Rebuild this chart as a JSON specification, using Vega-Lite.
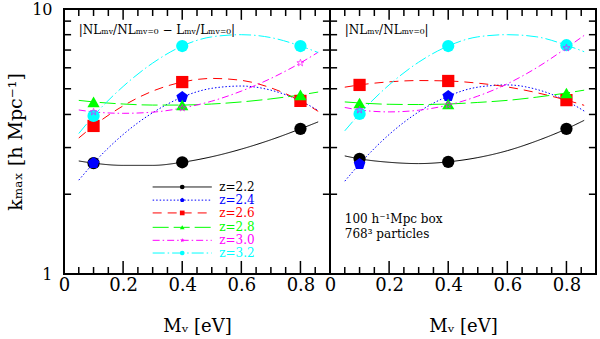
{
  "$schema": "https://vega.github.io/schema/vega-lite/v6.json",
  "padding": {"left": 5, "top": 0, "right": 0, "bottom": 0},
  "spacing": 0,
  "bounds": "flush",
  "config": {
    "font": "DejaVu Serif",
    "view": {"stroke": "black", "strokeWidth": 2},
    "axis": {"labelFont": "DejaVu Serif", "titleFont": "DejaVu Serif", "labelColor": "black", "titleColor": "black", "grid": false, "domain": false, "ticks": false, "titleFontWeight": "normal", "minExtent": 0},
    "text": {"font": "DejaVu Serif"}
  },
  "datasets": {
    "xt": [
      {"v": 0.05, "m": 0}, {"v": 0.1, "m": 0}, {"v": 0.15, "m": 0}, {"v": 0.2, "m": 1}, {"v": 0.25, "m": 0}, {"v": 0.3, "m": 0}, {"v": 0.35, "m": 0}, {"v": 0.4, "m": 1}, {"v": 0.45, "m": 0}, {"v": 0.5, "m": 0}, {"v": 0.55, "m": 0}, {"v": 0.6, "m": 1}, {"v": 0.65, "m": 0}, {"v": 0.7, "m": 0}, {"v": 0.75, "m": 0}, {"v": 0.8, "m": 1}, {"v": 0.85, "m": 0}
    ],
    "yt": [{"v": 2}, {"v": 3}, {"v": 4}, {"v": 5}, {"v": 6}, {"v": 7}, {"v": 8}, {"v": 9}],
    "curves": [
      {"p": "L", "z": "2.2", "x": 0.05, "k": 2.67}, {"p": "L", "z": "2.2", "x": 0.1, "k": 2.62}, {"p": "L", "z": "2.2", "x": 0.2, "k": 2.57}, {"p": "L", "z": "2.2", "x": 0.3, "k": 2.57}, {"p": "L", "z": "2.2", "x": 0.4, "k": 2.64}, {"p": "L", "z": "2.2", "x": 0.5, "k": 2.77}, {"p": "L", "z": "2.2", "x": 0.6, "k": 2.96}, {"p": "L", "z": "2.2", "x": 0.7, "k": 3.21}, {"p": "L", "z": "2.2", "x": 0.8, "k": 3.53}, {"p": "L", "z": "2.2", "x": 0.86, "k": 3.75},
      {"p": "L", "z": "2.4", "x": 0.05, "k": 2.26}, {"p": "L", "z": "2.4", "x": 0.1, "k": 2.62}, {"p": "L", "z": "2.4", "x": 0.2, "k": 3.36}, {"p": "L", "z": "2.4", "x": 0.3, "k": 4.06}, {"p": "L", "z": "2.4", "x": 0.4, "k": 4.65}, {"p": "L", "z": "2.4", "x": 0.5, "k": 5.02}, {"p": "L", "z": "2.4", "x": 0.6, "k": 5.12}, {"p": "L", "z": "2.4", "x": 0.7, "k": 4.94}, {"p": "L", "z": "2.4", "x": 0.8, "k": 4.5}, {"p": "L", "z": "2.4", "x": 0.86, "k": 4.14},
      {"p": "L", "z": "2.6", "x": 0.05, "k": 3.26}, {"p": "L", "z": "2.6", "x": 0.1, "k": 3.62}, {"p": "L", "z": "2.6", "x": 0.2, "k": 4.31}, {"p": "L", "z": "2.6", "x": 0.3, "k": 4.9}, {"p": "L", "z": "2.6", "x": 0.4, "k": 5.3}, {"p": "L", "z": "2.6", "x": 0.5, "k": 5.47}, {"p": "L", "z": "2.6", "x": 0.6, "k": 5.38}, {"p": "L", "z": "2.6", "x": 0.7, "k": 5.04}, {"p": "L", "z": "2.6", "x": 0.8, "k": 4.5}, {"p": "L", "z": "2.6", "x": 0.86, "k": 4.11},
      {"p": "L", "z": "2.8", "x": 0.05, "k": 4.52}, {"p": "L", "z": "2.8", "x": 0.1, "k": 4.46}, {"p": "L", "z": "2.8", "x": 0.2, "k": 4.38}, {"p": "L", "z": "2.8", "x": 0.3, "k": 4.34}, {"p": "L", "z": "2.8", "x": 0.4, "k": 4.34}, {"p": "L", "z": "2.8", "x": 0.5, "k": 4.38}, {"p": "L", "z": "2.8", "x": 0.6, "k": 4.46}, {"p": "L", "z": "2.8", "x": 0.7, "k": 4.58}, {"p": "L", "z": "2.8", "x": 0.8, "k": 4.74}, {"p": "L", "z": "2.8", "x": 0.86, "k": 4.86},
      {"p": "L", "z": "3.0", "x": 0.05, "k": 4.16}, {"p": "L", "z": "3.0", "x": 0.1, "k": 4.09}, {"p": "L", "z": "3.0", "x": 0.2, "k": 4.04}, {"p": "L", "z": "3.0", "x": 0.3, "k": 4.08}, {"p": "L", "z": "3.0", "x": 0.4, "k": 4.23}, {"p": "L", "z": "3.0", "x": 0.5, "k": 4.49}, {"p": "L", "z": "3.0", "x": 0.6, "k": 4.9}, {"p": "L", "z": "3.0", "x": 0.7, "k": 5.47}, {"p": "L", "z": "3.0", "x": 0.8, "k": 6.26}, {"p": "L", "z": "3.0", "x": 0.86, "k": 6.87},
      {"p": "L", "z": "3.2", "x": 0.05, "k": 3.39}, {"p": "L", "z": "3.2", "x": 0.1, "k": 3.95}, {"p": "L", "z": "3.2", "x": 0.2, "k": 5.1}, {"p": "L", "z": "3.2", "x": 0.3, "k": 6.25}, {"p": "L", "z": "3.2", "x": 0.4, "k": 7.25}, {"p": "L", "z": "3.2", "x": 0.5, "k": 7.85}, {"p": "L", "z": "3.2", "x": 0.6, "k": 8.0}, {"p": "L", "z": "3.2", "x": 0.7, "k": 7.8}, {"p": "L", "z": "3.2", "x": 0.8, "k": 7.25}, {"p": "L", "z": "3.2", "x": 0.86, "k": 6.85},
      {"p": "R", "z": "2.2", "x": 0.05, "k": 2.79}, {"p": "R", "z": "2.2", "x": 0.1, "k": 2.72}, {"p": "R", "z": "2.2", "x": 0.2, "k": 2.64}, {"p": "R", "z": "2.2", "x": 0.3, "k": 2.61}, {"p": "R", "z": "2.2", "x": 0.4, "k": 2.65}, {"p": "R", "z": "2.2", "x": 0.5, "k": 2.75}, {"p": "R", "z": "2.2", "x": 0.6, "k": 2.92}, {"p": "R", "z": "2.2", "x": 0.7, "k": 3.18}, {"p": "R", "z": "2.2", "x": 0.8, "k": 3.53}, {"p": "R", "z": "2.2", "x": 0.86, "k": 3.8},
      {"p": "R", "z": "2.4", "x": 0.05, "k": 2.24}, {"p": "R", "z": "2.4", "x": 0.1, "k": 2.6}, {"p": "R", "z": "2.4", "x": 0.2, "k": 3.36}, {"p": "R", "z": "2.4", "x": 0.3, "k": 4.09}, {"p": "R", "z": "2.4", "x": 0.4, "k": 4.69}, {"p": "R", "z": "2.4", "x": 0.5, "k": 5.07}, {"p": "R", "z": "2.4", "x": 0.6, "k": 5.17}, {"p": "R", "z": "2.4", "x": 0.7, "k": 4.97}, {"p": "R", "z": "2.4", "x": 0.8, "k": 4.5}, {"p": "R", "z": "2.4", "x": 0.86, "k": 4.12},
      {"p": "R", "z": "2.6", "x": 0.05, "k": 5.07}, {"p": "R", "z": "2.6", "x": 0.1, "k": 5.17}, {"p": "R", "z": "2.6", "x": 0.2, "k": 5.31}, {"p": "R", "z": "2.6", "x": 0.3, "k": 5.37}, {"p": "R", "z": "2.6", "x": 0.4, "k": 5.35}, {"p": "R", "z": "2.6", "x": 0.5, "k": 5.25}, {"p": "R", "z": "2.6", "x": 0.6, "k": 5.08}, {"p": "R", "z": "2.6", "x": 0.7, "k": 4.83}, {"p": "R", "z": "2.6", "x": 0.8, "k": 4.53}, {"p": "R", "z": "2.6", "x": 0.86, "k": 4.33},
      {"p": "R", "z": "2.8", "x": 0.05, "k": 4.46}, {"p": "R", "z": "2.8", "x": 0.1, "k": 4.42}, {"p": "R", "z": "2.8", "x": 0.2, "k": 4.37}, {"p": "R", "z": "2.8", "x": 0.3, "k": 4.36}, {"p": "R", "z": "2.8", "x": 0.4, "k": 4.38}, {"p": "R", "z": "2.8", "x": 0.5, "k": 4.44}, {"p": "R", "z": "2.8", "x": 0.6, "k": 4.52}, {"p": "R", "z": "2.8", "x": 0.7, "k": 4.65}, {"p": "R", "z": "2.8", "x": 0.8, "k": 4.82}, {"p": "R", "z": "2.8", "x": 0.86, "k": 4.94},
      {"p": "R", "z": "3.0", "x": 0.05, "k": 4.25}, {"p": "R", "z": "3.0", "x": 0.1, "k": 4.16}, {"p": "R", "z": "3.0", "x": 0.2, "k": 4.09}, {"p": "R", "z": "3.0", "x": 0.3, "k": 4.15}, {"p": "R", "z": "3.0", "x": 0.4, "k": 4.34}, {"p": "R", "z": "3.0", "x": 0.5, "k": 4.69}, {"p": "R", "z": "3.0", "x": 0.6, "k": 5.22}, {"p": "R", "z": "3.0", "x": 0.7, "k": 6.01}, {"p": "R", "z": "3.0", "x": 0.8, "k": 7.13}, {"p": "R", "z": "3.0", "x": 0.86, "k": 7.95},
      {"p": "R", "z": "3.2", "x": 0.05, "k": 3.47}, {"p": "R", "z": "3.2", "x": 0.1, "k": 4.02}, {"p": "R", "z": "3.2", "x": 0.2, "k": 5.17}, {"p": "R", "z": "3.2", "x": 0.3, "k": 6.3}, {"p": "R", "z": "3.2", "x": 0.4, "k": 7.25}, {"p": "R", "z": "3.2", "x": 0.5, "k": 7.85}, {"p": "R", "z": "3.2", "x": 0.6, "k": 8.0}, {"p": "R", "z": "3.2", "x": 0.7, "k": 7.85}, {"p": "R", "z": "3.2", "x": 0.8, "k": 7.3}, {"p": "R", "z": "3.2", "x": 0.86, "k": 6.9}
    ],
    "points": [
      {"p": "L", "z": "2.2", "x": 0.1, "k": 2.62}, {"p": "L", "z": "2.2", "x": 0.4, "k": 2.64}, {"p": "L", "z": "2.2", "x": 0.8, "k": 3.53},
      {"p": "L", "z": "2.4", "x": 0.1, "k": 2.62}, {"p": "L", "z": "2.4", "x": 0.4, "k": 4.65}, {"p": "L", "z": "2.4", "x": 0.8, "k": 4.5},
      {"p": "L", "z": "2.6", "x": 0.1, "k": 3.62}, {"p": "L", "z": "2.6", "x": 0.4, "k": 5.3}, {"p": "L", "z": "2.6", "x": 0.8, "k": 4.5},
      {"p": "L", "z": "2.8", "x": 0.1, "k": 4.46}, {"p": "L", "z": "2.8", "x": 0.4, "k": 4.34}, {"p": "L", "z": "2.8", "x": 0.8, "k": 4.74},
      {"p": "L", "z": "3.0", "x": 0.1, "k": 4.09}, {"p": "L", "z": "3.0", "x": 0.4, "k": 4.23}, {"p": "L", "z": "3.0", "x": 0.8, "k": 6.26},
      {"p": "L", "z": "3.2", "x": 0.1, "k": 3.95}, {"p": "L", "z": "3.2", "x": 0.4, "k": 7.25}, {"p": "L", "z": "3.2", "x": 0.8, "k": 7.25},
      {"p": "R", "z": "2.2", "x": 0.1, "k": 2.72}, {"p": "R", "z": "2.2", "x": 0.4, "k": 2.65}, {"p": "R", "z": "2.2", "x": 0.8, "k": 3.53},
      {"p": "R", "z": "2.4", "x": 0.1, "k": 2.6}, {"p": "R", "z": "2.4", "x": 0.4, "k": 4.69}, {"p": "R", "z": "2.4", "x": 0.8, "k": 4.5},
      {"p": "R", "z": "2.6", "x": 0.1, "k": 5.17}, {"p": "R", "z": "2.6", "x": 0.4, "k": 5.35}, {"p": "R", "z": "2.6", "x": 0.8, "k": 4.53},
      {"p": "R", "z": "2.8", "x": 0.1, "k": 4.42}, {"p": "R", "z": "2.8", "x": 0.4, "k": 4.38}, {"p": "R", "z": "2.8", "x": 0.8, "k": 4.82},
      {"p": "R", "z": "3.0", "x": 0.1, "k": 4.16}, {"p": "R", "z": "3.0", "x": 0.4, "k": 4.34}, {"p": "R", "z": "3.0", "x": 0.8, "k": 7.13},
      {"p": "R", "z": "3.2", "x": 0.1, "k": 4.02}, {"p": "R", "z": "3.2", "x": 0.4, "k": 7.25}, {"p": "R", "z": "3.2", "x": 0.8, "k": 7.3}
    ],
    "legend": [
      {"z": "2.2", "label": "z=2.2", "x0": 0.3, "x1": 0.5, "xm": 0.4, "xt": 0.525, "k": 2.13},
      {"z": "2.4", "label": "z=2.4", "x0": 0.3, "x1": 0.5, "xm": 0.4, "xt": 0.525, "k": 1.9},
      {"z": "2.6", "label": "z=2.6", "x0": 0.3, "x1": 0.5, "xm": 0.4, "xt": 0.525, "k": 1.7},
      {"z": "2.8", "label": "z=2.8", "x0": 0.3, "x1": 0.5, "xm": 0.4, "xt": 0.525, "k": 1.5},
      {"z": "3.0", "label": "z=3.0", "x0": 0.3, "x1": 0.5, "xm": 0.4, "xt": 0.525, "k": 1.34},
      {"z": "3.2", "label": "z=3.2", "x0": 0.3, "x1": 0.5, "xm": 0.4, "xt": 0.525, "k": 1.2}
    ],
    "notes": [
      {"p": "L", "x": 0.05, "k": 8.3, "t": "|NLₘᵥ/NLₘᵥ₌₀ − Lₘᵥ/Lₘᵥ₌₀|"},
      {"p": "R", "x": 0.05, "k": 8.3, "t": "|NLₘᵥ/NLₘᵥ₌₀|"},
      {"p": "R", "x": 0.05, "k": 1.61, "t": "100 h⁻¹Mpc box"},
      {"p": "R", "x": 0.05, "k": 1.42, "t": "768³ particles"}
    ]
  },
  "hconcat": [
    {
      "width": 266,
      "height": 265,
      "layer": [
        {
          "data": {"name": "curves"},
          "transform": [{"filter": "datum.p == 'L'"}],
          "mark": {"type": "line", "strokeWidth": 1, "interpolate": "monotone"},
          "encoding": {
            "x": {"field": "x", "type": "quantitative", "scale": {"domain": [0, 0.9], "nice": false, "zero": false},
              "axis": {"orient": "bottom", "values": [0, 0.2, 0.4, 0.6, 0.8], "format": "~g", "labelPadding": 2, "labelFontSize": 18, "labelFlush": false, "title": "Mᵥ [eV]", "titleFontSize": 18, "titlePadding": 23}},
            "y": {"field": "k", "type": "quantitative", "scale": {"type": "log", "domain": [1, 10], "nice": false},
              "axis": {"orient": "left", "values": [1, 10], "format": "~g", "labelPadding": 12, "labelFontSize": 16, "title": "kₘₐₓ [h Mpc⁻¹]", "titleFontSize": 19, "titlePadding": 6}},
            "color": {"field": "z", "type": "nominal", "legend": null, "scale": {"domain": ["2.2", "2.4", "2.6", "2.8", "3.0", "3.2"], "range": ["#000000", "#0000ff", "#ff0000", "#00ff00", "#ff00ff", "#00ffff"]}},
            "strokeDash": {"field": "z", "type": "nominal", "legend": null, "scale": {"domain": ["2.2", "2.4", "2.6", "2.8", "3.0", "3.2"], "range": [[1, 0], [1.5, 2], [9, 6], [16, 5], [7, 3, 1.5, 3], [12, 3, 1.5, 3]]}}
          }
        },
        {
          "data": {"name": "xt"},
          "transform": [{"filter": "datum.m == 1"}],
          "mark": {"type": "rule", "strokeWidth": 1.5, "color": "#000000"},
          "encoding": {"x": {"field": "v", "type": "quantitative"}, "y": {"datum": 1, "type": "quantitative"}, "y2": {"datum": 1.12}}
        },
        {
          "data": {"name": "xt"},
          "transform": [{"filter": "datum.m == 0"}],
          "mark": {"type": "rule", "strokeWidth": 1.5, "color": "#000000"},
          "encoding": {"x": {"field": "v", "type": "quantitative"}, "y": {"datum": 1, "type": "quantitative"}, "y2": {"datum": 1.063}}
        },
        {
          "data": {"name": "xt"},
          "transform": [{"filter": "datum.m == 1"}],
          "mark": {"type": "rule", "strokeWidth": 1.5, "color": "#000000"},
          "encoding": {"x": {"field": "v", "type": "quantitative"}, "y": {"datum": 10, "type": "quantitative"}, "y2": {"datum": 9.1}}
        },
        {
          "data": {"name": "xt"},
          "transform": [{"filter": "datum.m == 0"}],
          "mark": {"type": "rule", "strokeWidth": 1.5, "color": "#000000"},
          "encoding": {"x": {"field": "v", "type": "quantitative"}, "y": {"datum": 10, "type": "quantitative"}, "y2": {"datum": 9.41}}
        },
        {
          "data": {"name": "yt"},
          "mark": {"type": "rule", "strokeWidth": 1.5, "color": "#000000"},
          "encoding": {"y": {"field": "v", "type": "quantitative"}, "x": {"datum": 0, "type": "quantitative"}, "x2": {"datum": 0.024}}
        },
        {
          "data": {"name": "yt"},
          "mark": {"type": "rule", "strokeWidth": 1.5, "color": "#000000"},
          "encoding": {"y": {"field": "v", "type": "quantitative"}, "x": {"datum": 0.876, "type": "quantitative"}, "x2": {"datum": 0.9}}
        },
        {
          "data": {"name": "points"},
          "transform": [{"filter": "datum.p == 'L' && datum.z != '3.0'"}],
          "mark": {"type": "point", "filled": true, "opacity": 1},
          "encoding": {
            "x": {"field": "x", "type": "quantitative"},
            "y": {"field": "k", "type": "quantitative"},
            "color": {"field": "z", "type": "nominal", "legend": null},
            "shape": {"field": "z", "type": "nominal", "legend": null, "scale": {"domain": ["2.2", "2.4", "2.6", "2.8", "3.0", "3.2"], "range": ["circle", "M0,-1L0.951,-0.309L0.588,0.809L-0.588,0.809L-0.951,-0.309Z", "square", "triangle-up", "M0,-1L0.2245,-0.309L0.951,-0.309L0.3633,0.118L0.5878,0.809L0,0.382L-0.5878,0.809L-0.3633,0.118L-0.951,-0.309L-0.2245,-0.309Z", "circle"]}},
            "size": {"field": "z", "type": "ordinal", "legend": null, "scale": {"domain": ["2.2", "2.4", "2.6", "2.8", "3.0", "3.2"], "range": [150, 150, 100, 120, 60, 115]}}
          }
        },
        {
          "data": {"name": "points"},
          "transform": [{"filter": "datum.p == 'L' && datum.z == '3.0'"}],
          "mark": {"type": "point", "filled": false, "strokeWidth": 1, "size": 55, "shape": "M0,-1L0.2245,-0.309L0.951,-0.309L0.3633,0.118L0.5878,0.809L0,0.382L-0.5878,0.809L-0.3633,0.118L-0.951,-0.309L-0.2245,-0.309Z"},
          "encoding": {
            "x": {"field": "x", "type": "quantitative"},
            "y": {"field": "k", "type": "quantitative"},
            "color": {"field": "z", "type": "nominal", "legend": null}
          }
        },
        {
          "data": {"name": "legend"},
          "mark": {"type": "rule", "strokeWidth": 1},
          "encoding": {
            "x": {"field": "x0", "type": "quantitative"},
            "x2": {"field": "x1"},
            "y": {"field": "k", "type": "quantitative"},
            "color": {"field": "z", "type": "nominal", "legend": null},
            "strokeDash": {"field": "z", "type": "nominal", "legend": null}
          }
        },
        {
          "data": {"name": "legend"},
          "mark": {"type": "point", "filled": true, "opacity": 1, "size": 22},
          "encoding": {
            "x": {"field": "xm", "type": "quantitative"},
            "y": {"field": "k", "type": "quantitative"},
            "color": {"field": "z", "type": "nominal", "legend": null},
            "shape": {"field": "z", "type": "nominal", "legend": null}
          }
        },
        {
          "data": {"name": "legend"},
          "mark": {"type": "text", "align": "left", "baseline": "middle", "fontSize": 12, "font": "DejaVu Serif"},
          "encoding": {
            "x": {"field": "xt", "type": "quantitative"},
            "y": {"field": "k", "type": "quantitative"},
            "text": {"field": "label"},
            "color": {"field": "z", "type": "nominal", "legend": null}
          }
        },
        {
          "data": {"name": "notes"},
          "transform": [{"filter": "datum.p == 'L'"}],
          "mark": {"type": "text", "align": "left", "baseline": "middle", "fontSize": 12, "font": "DejaVu Serif", "color": "black"},
          "encoding": {
            "x": {"field": "x", "type": "quantitative"},
            "y": {"field": "k", "type": "quantitative"},
            "text": {"field": "t"}
          }
        }
      ]
    },
    {
      "width": 266,
      "height": 265,
      "layer": [
        {
          "data": {"name": "curves"},
          "transform": [{"filter": "datum.p == 'R'"}],
          "mark": {"type": "line", "strokeWidth": 1, "interpolate": "monotone"},
          "encoding": {
            "x": {"field": "x", "type": "quantitative", "scale": {"domain": [0, 0.9], "nice": false, "zero": false},
              "axis": {"orient": "bottom", "values": [0, 0.2, 0.4, 0.6, 0.8], "format": "~g", "labelPadding": 2, "labelFontSize": 18, "labelFlush": false, "title": "Mᵥ [eV]", "titleFontSize": 18, "titlePadding": 23}},
            "y": {"field": "k", "type": "quantitative", "scale": {"type": "log", "domain": [1, 10], "nice": false}, "axis": null},
            "color": {"field": "z", "type": "nominal", "legend": null, "scale": {"domain": ["2.2", "2.4", "2.6", "2.8", "3.0", "3.2"], "range": ["#000000", "#0000ff", "#ff0000", "#00ff00", "#ff00ff", "#00ffff"]}},
            "strokeDash": {"field": "z", "type": "nominal", "legend": null, "scale": {"domain": ["2.2", "2.4", "2.6", "2.8", "3.0", "3.2"], "range": [[1, 0], [1.5, 2], [9, 6], [16, 5], [7, 3, 1.5, 3], [12, 3, 1.5, 3]]}}
          }
        },
        {
          "data": {"name": "xt"},
          "transform": [{"filter": "datum.m == 1"}],
          "mark": {"type": "rule", "strokeWidth": 1.5, "color": "#000000"},
          "encoding": {"x": {"field": "v", "type": "quantitative"}, "y": {"datum": 1, "type": "quantitative"}, "y2": {"datum": 1.12}}
        },
        {
          "data": {"name": "xt"},
          "transform": [{"filter": "datum.m == 0"}],
          "mark": {"type": "rule", "strokeWidth": 1.5, "color": "#000000"},
          "encoding": {"x": {"field": "v", "type": "quantitative"}, "y": {"datum": 1, "type": "quantitative"}, "y2": {"datum": 1.063}}
        },
        {
          "data": {"name": "xt"},
          "transform": [{"filter": "datum.m == 1"}],
          "mark": {"type": "rule", "strokeWidth": 1.5, "color": "#000000"},
          "encoding": {"x": {"field": "v", "type": "quantitative"}, "y": {"datum": 10, "type": "quantitative"}, "y2": {"datum": 9.1}}
        },
        {
          "data": {"name": "xt"},
          "transform": [{"filter": "datum.m == 0"}],
          "mark": {"type": "rule", "strokeWidth": 1.5, "color": "#000000"},
          "encoding": {"x": {"field": "v", "type": "quantitative"}, "y": {"datum": 10, "type": "quantitative"}, "y2": {"datum": 9.41}}
        },
        {
          "data": {"name": "yt"},
          "mark": {"type": "rule", "strokeWidth": 1.5, "color": "#000000"},
          "encoding": {"y": {"field": "v", "type": "quantitative"}, "x": {"datum": 0, "type": "quantitative"}, "x2": {"datum": 0.024}}
        },
        {
          "data": {"name": "yt"},
          "mark": {"type": "rule", "strokeWidth": 1.5, "color": "#000000"},
          "encoding": {"y": {"field": "v", "type": "quantitative"}, "x": {"datum": 0.876, "type": "quantitative"}, "x2": {"datum": 0.9}}
        },
        {
          "data": {"name": "points"},
          "transform": [{"filter": "datum.p == 'R' && datum.z != '3.0'"}],
          "mark": {"type": "point", "filled": true, "opacity": 1},
          "encoding": {
            "x": {"field": "x", "type": "quantitative"},
            "y": {"field": "k", "type": "quantitative"},
            "color": {"field": "z", "type": "nominal", "legend": null},
            "shape": {"field": "z", "type": "nominal", "legend": null, "scale": {"domain": ["2.2", "2.4", "2.6", "2.8", "3.0", "3.2"], "range": ["circle", "M0,-1L0.951,-0.309L0.588,0.809L-0.588,0.809L-0.951,-0.309Z", "square", "triangle-up", "M0,-1L0.2245,-0.309L0.951,-0.309L0.3633,0.118L0.5878,0.809L0,0.382L-0.5878,0.809L-0.3633,0.118L-0.951,-0.309L-0.2245,-0.309Z", "circle"]}},
            "size": {"field": "z", "type": "ordinal", "legend": null, "scale": {"domain": ["2.2", "2.4", "2.6", "2.8", "3.0", "3.2"], "range": [150, 150, 100, 120, 60, 115]}}
          }
        },
        {
          "data": {"name": "points"},
          "transform": [{"filter": "datum.p == 'R' && datum.z == '3.0'"}],
          "mark": {"type": "point", "filled": false, "strokeWidth": 1, "size": 55, "shape": "M0,-1L0.2245,-0.309L0.951,-0.309L0.3633,0.118L0.5878,0.809L0,0.382L-0.5878,0.809L-0.3633,0.118L-0.951,-0.309L-0.2245,-0.309Z"},
          "encoding": {
            "x": {"field": "x", "type": "quantitative"},
            "y": {"field": "k", "type": "quantitative"},
            "color": {"field": "z", "type": "nominal", "legend": null}
          }
        },
        {
          "data": {"name": "notes"},
          "transform": [{"filter": "datum.p == 'R'"}],
          "mark": {"type": "text", "align": "left", "baseline": "middle", "fontSize": 12, "font": "DejaVu Serif", "color": "black"},
          "encoding": {
            "x": {"field": "x", "type": "quantitative"},
            "y": {"field": "k", "type": "quantitative"},
            "text": {"field": "t"}
          }
        }
      ]
    }
  ]
}
